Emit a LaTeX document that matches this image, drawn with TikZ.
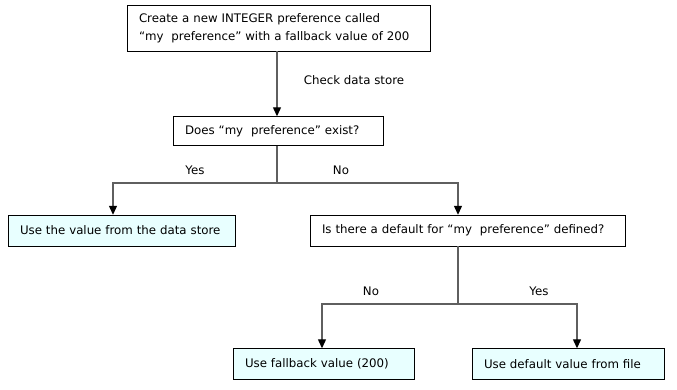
\documentclass[tikz,border=0pt]{standalone}
\usepackage{fontspec}
\setmainfont{DejaVu Sans}
\usetikzlibrary{arrows.meta,positioning}

\definecolor{boxfill}{HTML}{E8FFFF}
\definecolor{flowgray}{HTML}{5F5F5F}

\begin{document}
\begin{tikzpicture}[
  x=1pt, y=-1pt,
  every node/.style={font=\fontsize{11.8}{18}\selectfont},
  box/.style={draw,rectangle,inner xsep=12pt,inner ysep=0pt,align=left,minimum height=#1},
  box/.default=30pt,
  leaf/.style={box=31pt,fill=boxfill},
  flow/.style={draw=flowgray,line width=1.2pt},
  arr/.style={flow,-{Triangle[length=9pt,width=8pt,color=black]}},
  lbl/.style={inner sep=0pt}
]
\useasboundingbox (0,0) rectangle (677,390);

% boxes
\node[box=46pt,text width=279pt] (create) at (278.5,28)
  {Create a new INTEGER preference called\\``my\ \ preference'' with a fallback value of 200};
\node[box=29pt,text width=186pt] (exists) at (278,131) {Does ``my\ \ preference'' exist?};
\node[leaf,text width=203pt] (store) at (121.5,230.5) {Use the value from the data store};
\node[box=31pt,text width=291pt] (default) at (467.5,230.5)
  {Is there a default for ``my\ \ preference'' defined?};
\node[leaf,text width=157pt] (fallback) at (323.5,364) {Use fallback value (200)};
\node[leaf,text width=168pt] (file) at (568,364) {Use default value from file};

% branch points
\coordinate (split1) at (277,183);
\coordinate (split2) at (458,304);

% connectors
\draw[arr] (create.south -| split1) -- (exists.north -| split1);
\draw[flow] (exists.south -| split1) -- (split1);
\draw[arr] (split1) -| ([xshift=-8.5pt]store.north);
\draw[arr] (split1) -| ([xshift=-9.5pt]default.north);
\draw[flow] (default.south -| split2) -- (split2);
\draw[arr] (split2) -| ([xshift=-1.5pt]fallback.north);
\draw[arr] (split2) -| ([xshift=9pt]file.north);

% labels
\node[lbl] (check) at (354,80) {Check data store};
\node[lbl] (yes1) at (195,170) {Yes};
\node[lbl] (no1) at (341,170) {No};
\node[lbl] (no2) at (371,291) {No};
\node[lbl] (yes2) at (539,291) {Yes};
\end{tikzpicture}
\end{document}
